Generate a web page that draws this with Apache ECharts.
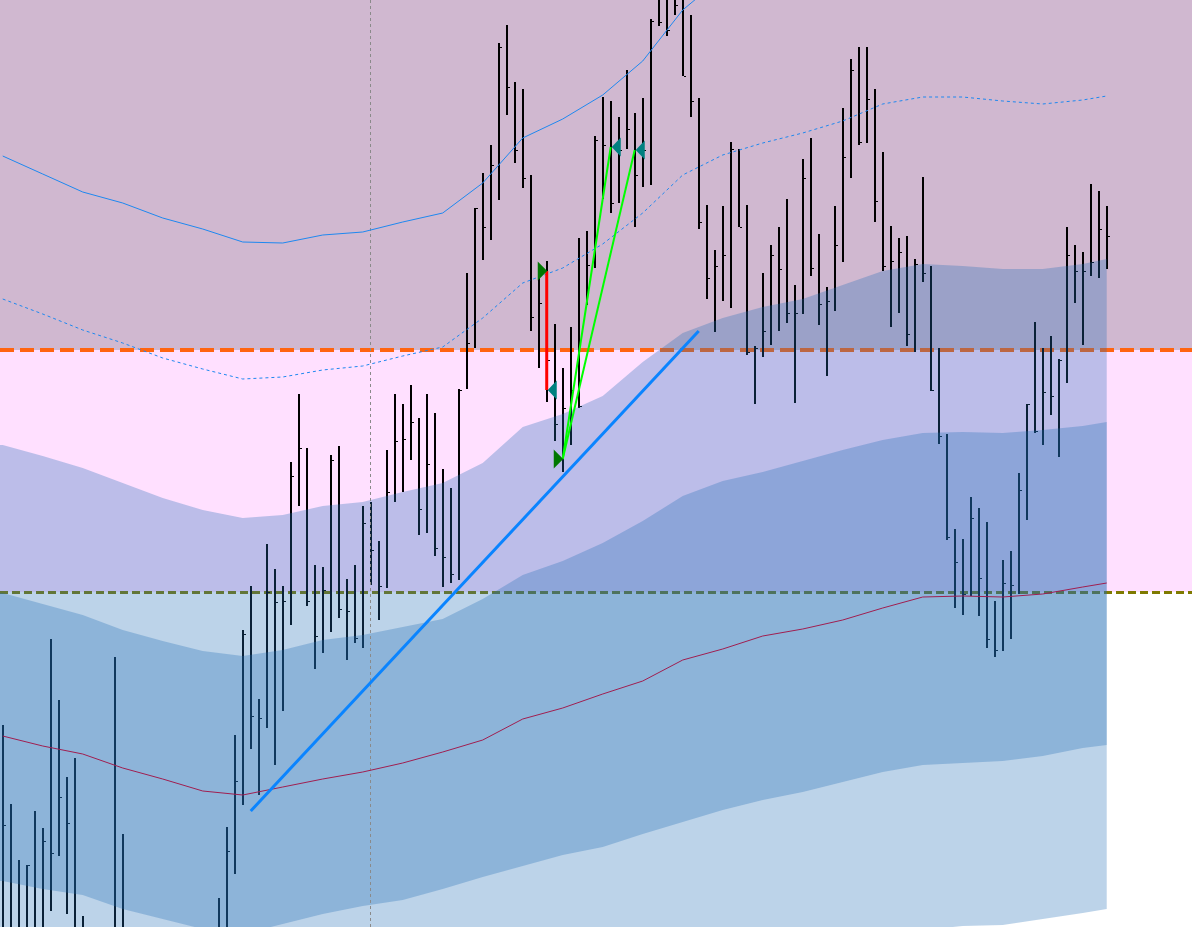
<!DOCTYPE html>
<html>
<head>
<meta charset="utf-8">
<script src="https://cdn.jsdelivr.net/npm/echarts@6/dist/echarts.min.js"></script>
<style>html,body{margin:0;padding:0;background:#fff;overflow:hidden}#c{width:1192px;height:927px}</style>
</head>
<body>
<div id="c"></div>
<script>
// ---- price bars (points), one entry per bar 0..138 ----
const barHigh = [202,123,67,62,116,99,288,227,150,169,
  11,-18,-23,-13,270,93,-13,-33,-23,-18,
  -38,-53,-33,-23,-18,-8,-13,29,100,192,
  297,341,228,383,358,341,465,533,479,362,
  360,472,481,348,362,421,425,386,477,533,
  523,542,509,533,514,458,439,538,654,719,
  754,782,884,902,845,838,752,655,666,603,
  559,600,689,696,791,830,826,810,857,814,
  829,908,937,942,947,932,912,829,722,677,
  721,785,778,722,581,654,682,700,728,642,
  768,789,693,640,721,819,868,880,880,838,
  775,701,689,691,668,750,661,579,493,398,
  388,430,419,405,326,367,376,454,523,605,
  579,591,568,700,682,675,743,736,721];
const barLow = [-33,-43,-53,-63,-48,-58,16,71,13,-33,
  -63,-83,-93,-78,-33,-63,-83,-103,-93,-88,
  -113,-123,-103,-83,-73,-68,-73,-63,-33,53,
  122,178,132,199,162,216,302,421,321,258,
  274,295,309,267,284,279,342,307,339,425,
  435,467,392,394,371,340,344,347,538,579,
  667,687,727,812,764,739,596,559,525,486,
  455,482,519,622,659,728,714,724,778,700,
  740,742,901,891,912,851,810,698,628,595,
  626,619,700,572,523,570,582,596,604,524,
  613,651,602,551,616,665,749,782,784,705,
  656,600,614,581,575,645,536,483,387,319,
  312,331,311,279,270,276,288,333,407,494,
  482,512,470,544,624,582,651,649,658];
const barClose = [102,-13,-23,62,-13,86,74,130,104,-18,
  -33,-53,-73,-33,-18,-23,-63,-73,-43,-73,
  -93,-83,-73,-43,-33,-23,-33,-23,76,146,
  293,211,209,335,325,326,451,479,326,291,
  337,467,318,316,289,404,377,341,435,486,
  488,505,418,463,379,370,353,537,584,719,
  700,762,880,840,777,749,610,624,567,503,
  519,537,521,662,787,782,724,777,798,752,
  777,906,905,897,922,851,826,705,649,661,
  672,778,700,575,579,596,672,658,614,614,
  749,659,623,626,682,770,857,785,828,726,
  661,666,675,593,663,654,537,491,390,365,
  333,409,349,288,277,344,342,437,523,496,
  535,531,567,672,656,656,665,698,691];

// ---- bands, sampled at these bar numbers ----
const bandIdx    = [0,5,10,15,20,25,30,35,40,45,50,55,60,65,70,75,80,85,90,95,100,105,110,115,120,125,130,135,138];
const maLine     = [191,181,173,159,148,136,132,140,148,155,164,175,187,208,219,233,246,267,278,291,298,307,319,330,331,330,333,340,344];
const outerUpper = [482,471,459,444,429,417,409,412,421,425,435,444,464,500,513,531,565,594,609,620,628,642,656,663,661,658,658,663,668];
const innerUpper = [334,323,312,297,286,276,271,277,287,292,300,308,328,352,366,384,406,431,446,455,466,477,487,494,495,494,497,501,505];
const innerLower = [46,38,32,18,8,-2,-7,3,13,21,27,38,50,61,72,80,93,105,117,127,135,145,155,162,164,166,171,179,182];
const outerLower = [-100,-109,-113,-126,-133,-145,-145,-132,-125,-115,-107,-96,-90,-84,-77,-71,-66,-60,-53,-38,-32,-28,-18,-3,1,2,8,14,18];
const dotLine    = [628,613,597,584,569,558,548,550,557,561,571,580,609,644,659,683,714,752,772,784,794,806,823,830,830,826,823,827,831];
const solidIdx   = [0,5,10,15,20,25,30,35,40,45,50,55,60,65,70,75,80,85,88];
const solidLine  = [771,753,735,724,709,698,685,684,692,695,705,714,744,789,808,832,866,917,937];

// ---- levels and drawn objects ----
const levelUpper = 577;
const levelLower = 335;
const vLineBar = 46;
const trendLine = [[31,116],[87,596]];
const greenLine1 = [[70,468],[76,780]];
const greenLine2 = [[70,468],[79,777]];
const redLine = [[68,656],[68,537]];
const buyArrows = [[68,656],[70,468]];
const sellArrows = [[68,537],[76,780],[79,777]];

const BAND_FILL = 'rgba(34,110,183,0.3)';

const bars = barHigh.map((h,i)=>[i,h,barLow[i],barClose[i]]);

function bandSeries(upper, lower, z){
  return {
    type:'custom', z:z, silent:true,
    data: bandIdx.map((k,i)=>[k, upper[i], lower[i]]),
    renderItem:function(params, api){
      if (params.dataIndex !== 0) return null;
      const top = bandIdx.map((k,i)=>api.coord([k, upper[i]]));
      const bot = bandIdx.map((k,i)=>api.coord([k, lower[i]])).reverse();
      const left = params.coordSys.x;
      const pts = [[left, top[0][1]]].concat(top, bot, [[left, bot[bot.length-1][1]]]);
      return {type:'polygon', shape:{points:pts}, style:{fill:BAND_FILL}};
    }
  };
}

function arrowSeries(list, dir, color){
  return {
    type:'custom', z:8, silent:true,
    data:list,
    renderItem:function(params, api){
      const p = api.coord([api.value(0), api.value(1)]);
      const w = 9, h = 19;
      const pts = dir > 0
        ? [[p[0]+0.5,p[1]],[p[0]-w,p[1]-h/2],[p[0]-w,p[1]+h/2]]
        : [[p[0]+1,p[1]],[p[0]+1+w,p[1]-h/2],[p[0]+1+w,p[1]+h/2]];
      return {type:'polygon', shape:{points:pts}, style:{fill:color}};
    }
  };
}

function lineSeries(data, color, width, type, z, extra){
  return Object.assign({
    type:'line', data:data, symbol:'none', z:z, silent:true,
    lineStyle:{color:color, width:width, type:type}, animation:false
  }, extra||{});
}

const chart = echarts.init(document.getElementById('c'));
chart.setOption({
  animation:false,
  backgroundColor:'#ffffff',
  grid:{left:0,right:0,top:0,bottom:0,containLabel:false},
  xAxis:{type:'value', min:-0.34, max:148.66, show:false},
  yAxis:{type:'value', min:0, max:927, show:false},
  series:[
    // price bars (drawn beneath the bands)
    {
      type:'custom', z:2, silent:true,
      data:bars,
      renderItem:function(params, api){
        const k = api.value(0);
        const hi = api.coord([k, api.value(1)]);
        const lo = api.coord([k, api.value(2)]);
        const cl = api.coord([k, api.value(3)]);
        const x = Math.round(hi[0]);
        const yh = Math.round(hi[1]), yl = Math.round(lo[1]), yc = Math.round(cl[1]);
        return {type:'group', children:[
          {type:'rect', shape:{x:x-1, y:yh, width:2, height:yl-yh}, style:{fill:'#000000'}},
          {type:'rect', shape:{x:x+1, y:yc, width:2, height:1}, style:{fill:'#000000'}}
        ]};
      },
      markArea:{
        z:0, silent:true,
        data:[
          [{yAxis:levelUpper, itemStyle:{color:'#d0b8d0'}},{yAxis:927}],
          [{yAxis:levelLower, itemStyle:{color:'#ffe0ff'}},{yAxis:levelUpper}]
        ]
      },
      markLine:{
        z:1, silent:true, symbol:['none','none'], label:{show:false},
        data:[
          {yAxis:levelUpper, lineStyle:{color:'#ff6410', width:4, type:[14,6], cap:'butt'}},
          {yAxis:levelLower, lineStyle:{color:'#7f7a00', width:3, type:[8,4], cap:'butt'}}
        ]
      }
    },
    bandSeries(outerUpper, outerLower, 3),
    bandSeries(innerUpper, innerLower, 4),
    lineSeries(bandIdx.map((k,i)=>[k, maLine[i]]), '#a01e50', 1, 'solid', 5),
    lineSeries(solidIdx.map((k,i)=>[k, solidLine[i]]), '#1e88f0', 1, 'solid', 5),
    lineSeries(bandIdx.map((k,i)=>[k, dotLine[i]]), '#1e88f0', 1, [3,3], 5, {
      markLine:{
        z:5, silent:true, symbol:['none','none'], label:{show:false},
        data:[{xAxis:vLineBar, lineStyle:{color:'#8a8a8a', width:1, type:[3,3]}}]
      }
    }),
    lineSeries(trendLine, '#0a84ff', 3, 'solid', 6),
    lineSeries(greenLine1, '#00ff00', 2, 'solid', 6),
    lineSeries(greenLine2, '#00ff00', 2, 'solid', 6),
    lineSeries(redLine, '#ff0000', 3, 'solid', 6),
    arrowSeries(buyArrows, 1, '#007800'),
    arrowSeries(sellArrows, -1, '#008080')
  ]
});
</script>
</body>
</html>
